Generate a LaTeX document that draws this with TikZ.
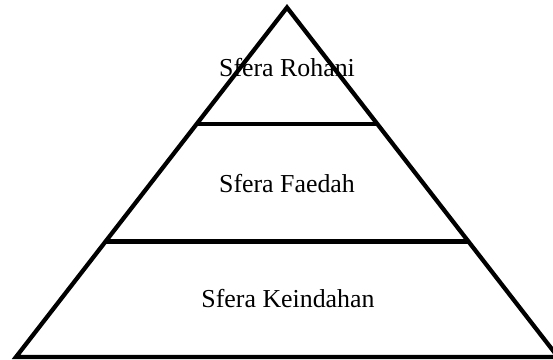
\documentclass[tikz,border=0pt]{standalone}
\usepackage{fontspec}
\setmainfont{Liberation Serif}
\usetikzlibrary{calc}
\begin{document}
\begin{tikzpicture}[x=0.75pt,y=-0.75pt,
  edge/.style={line width=3.2pt,line join=miter,draw=black},
  lbl/.style={anchor=base,inner sep=0pt,font=\fontsize{19.4}{23}\selectfont}]
\useasboundingbox (0,0) rectangle (553,360);
\coordinate (top) at (287,7.5);
\coordinate (bl) at (16,357);
\coordinate (br) at (558,357);
\draw[edge] (top) -- (bl) -- (br) -- cycle;
\coordinate (l1) at ($(top)!0.3342!(bl)$);
\coordinate (r1) at ($(top)!0.3342!(br)$);
\coordinate (l2) at ($(top)!0.6695!(bl)$);
\coordinate (r2) at ($(top)!0.6695!(br)$);
\draw[edge] (l1) -- (r1);
\draw[edge] (l2) -- (r2);
\node[lbl] (rohani) at (287,77) {Sfera Rohani};
\node[lbl] (faedah) at (287,192) {Sfera Faedah};
\node[lbl] (keindahan) at (288,307) {Sfera Keindahan};
\end{tikzpicture}
\end{document}
